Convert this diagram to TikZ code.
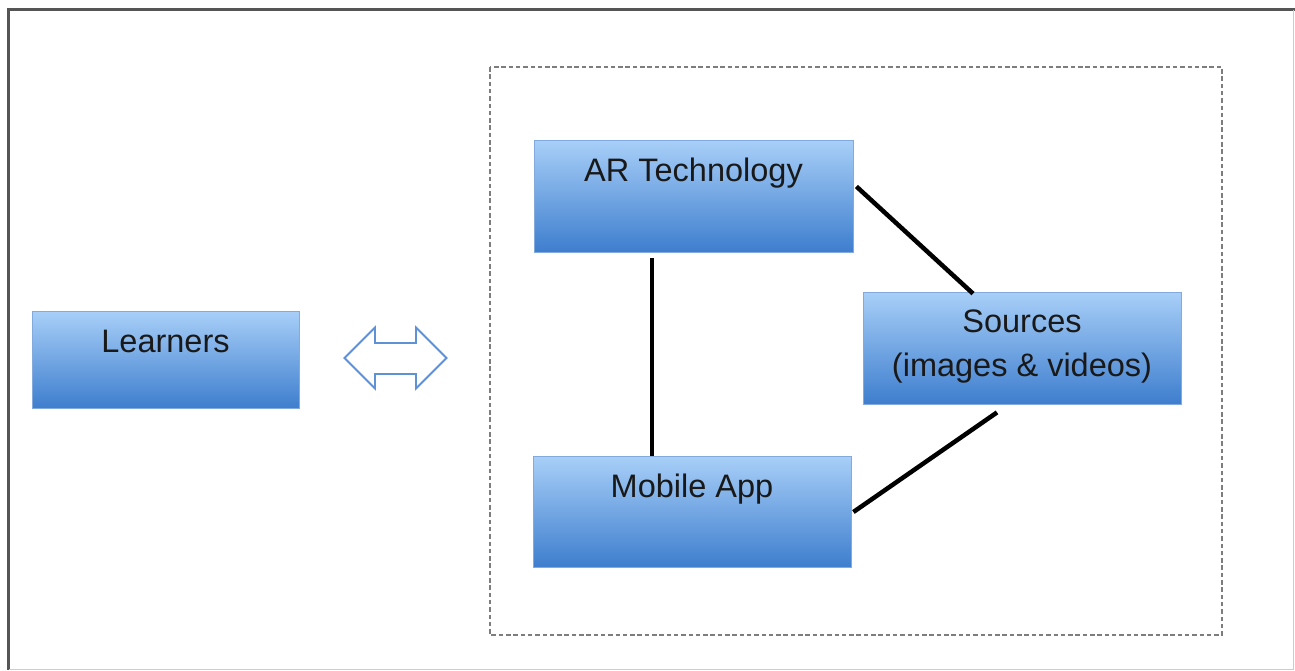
\documentclass[tikz,border=0pt]{standalone}
\usepackage{fontspec}
\setmainfont{Liberation Sans}
\definecolor{boxtop}{RGB}{168,207,248}
\definecolor{boxbot}{RGB}{62,126,206}
\definecolor{boxline}{RGB}{130,170,220}
\definecolor{arrowline}{RGB}{95,145,215}
\definecolor{frameline}{RGB}{85,85,85}
\definecolor{dashline}{RGB}{125,125,125}
\begin{document}
\begin{tikzpicture}[x=1pt,y=-1pt,
  block/.style={rectangle, draw=boxline, line width=0.8pt,
    top color=boxtop, bottom color=boxbot, inner sep=0pt},
  caption/.style={anchor=base, inner sep=0pt,
    font=\fontsize{32.5pt}{43pt}\selectfont, text=black!90},
  link/.style={line width=4.5pt, black}]
  \useasboundingbox (0,0) rectangle (1295,670);
  \fill[white] (0,0) rectangle (1295,670);

  % outer frame
  \draw[frameline, line width=3.5pt] (8.5,670) -- (8.5,9.5) -- (1295,9.5);
  \draw[black!20, line width=0.8pt] (1293.5,9.5) -- (1293.5,669) -- (8.5,669);

  % dashed group
  \draw[dashline, line width=1.4pt, dash pattern=on 4.5pt off 2.8pt]
    (490,67) rectangle (1222,635);

  % boxes
  \node[block, minimum width=267pt, minimum height=97pt,
    label={[caption, name=learnT, yshift=-42pt]north:Learners}]
    (learn) at (165.5,359.5) {};
  \node[block, minimum width=319pt, minimum height=112pt,
    label={[caption, name=arT, yshift=-42pt]north:AR Technology}]
    (ar) at (693.5,196) {};
  \node[block, minimum width=318pt, minimum height=111pt,
    label={[caption, name=appT, yshift=-42pt]north:Mobile App}]
    (app) at (692,511.5) {};
  \node[block, minimum width=318pt, minimum height=112pt,
    label={[caption, name=srcT, yshift=-41pt]north:Sources},
    label={[caption, name=srcT2, yshift=-85pt]north:{(images \& videos)}}]
    (src) at (1022,348) {};

  % two-way arrow between learners and the group
  \draw[arrowline, line width=1.8pt, fill=white, line join=miter]
    (344.5,358) -- (375,327.5) -- (375,343) -- (416,343) -- (416,327.5)
    -- (446.5,358) -- (416,388.5) -- (416,374) -- (375,374) -- (375,388.5)
    -- cycle;

  % connectors
  \draw[link] ([xshift=-41.5pt,yshift=-6pt]ar.south) -- ([xshift=-40pt]app.north);
  \draw[link] ([xshift=3pt,yshift=9.5pt]ar.east) -- ([xshift=-49pt,yshift=-2pt]src.north);
  \draw[link] ([xshift=-25pt,yshift=-8pt]src.south) -- ([xshift=2pt,yshift=-0.5pt]app.east);
\end{tikzpicture}
\end{document}
